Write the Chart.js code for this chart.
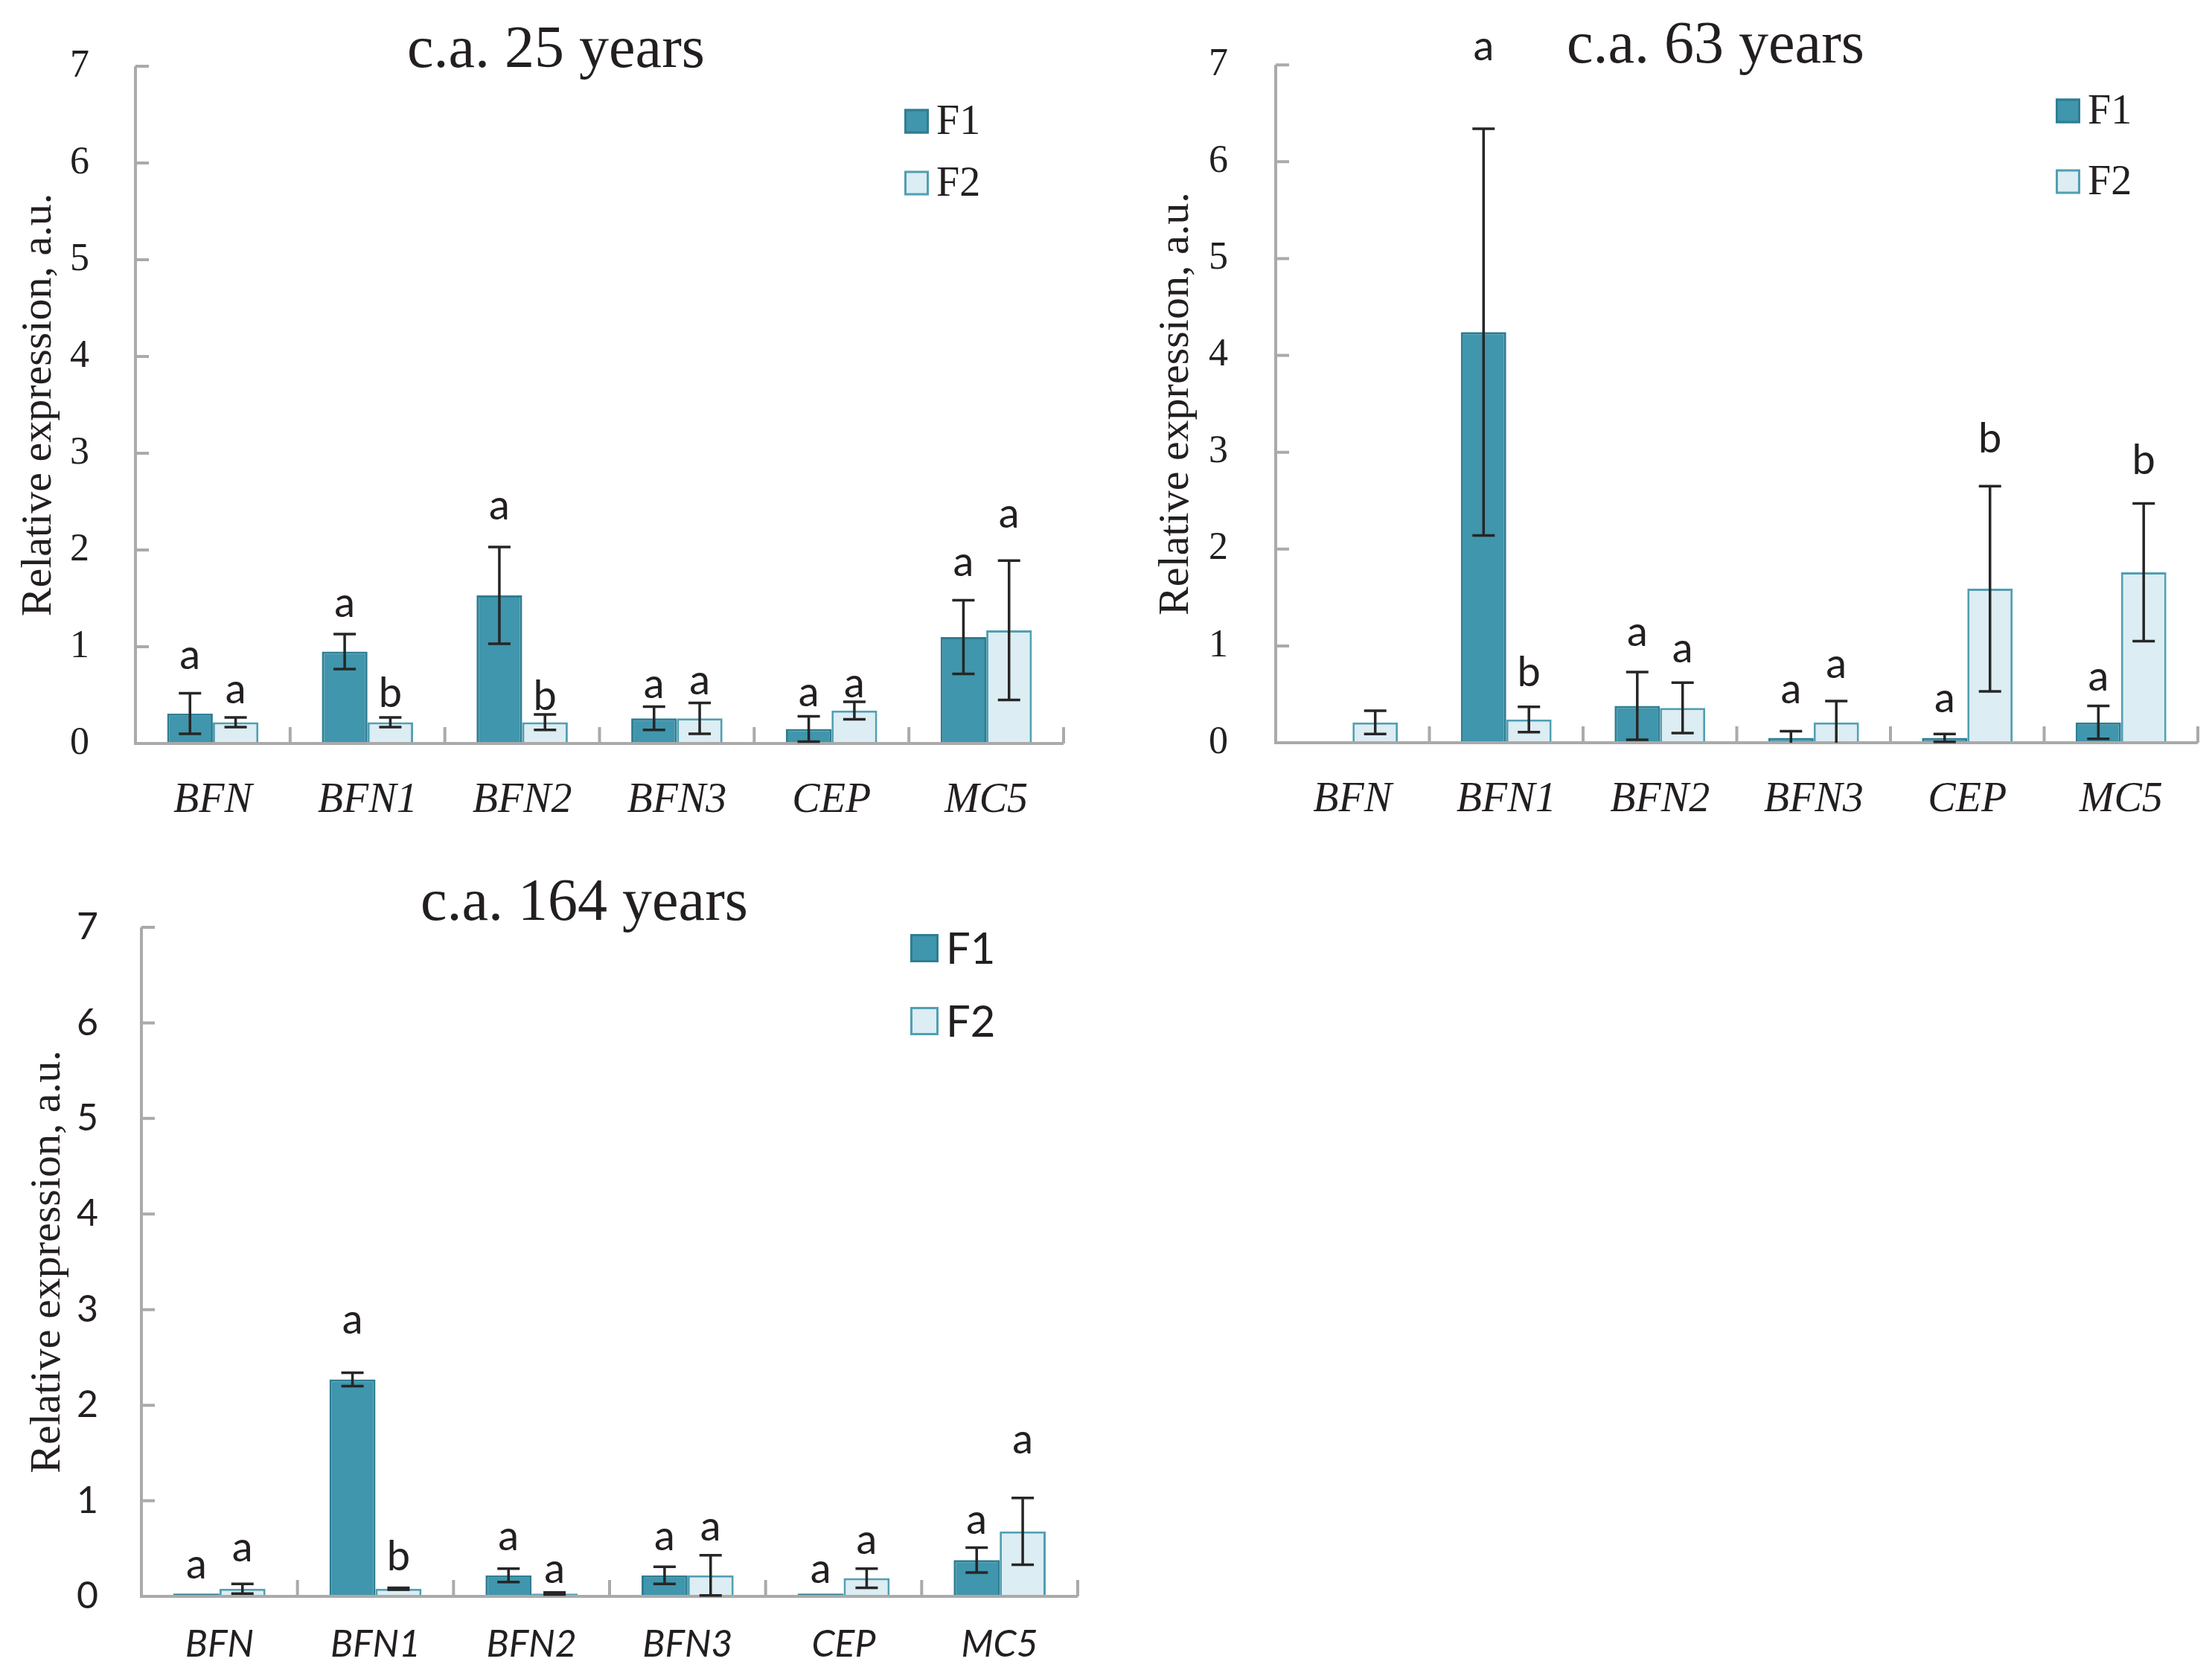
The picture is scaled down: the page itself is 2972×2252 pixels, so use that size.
<!DOCTYPE html>
<html><head><meta charset="utf-8">
<script src="https://cdn.jsdelivr.net/npm/chart.js@4.4.1/dist/chart.umd.min.js"></script>
<style>
html,body{margin:0;padding:0;background:#fff;width:2972px;height:2252px;overflow:hidden;}
canvas{position:absolute;}
</style></head><body>
<canvas id="c1" width="1480" height="1130" style="left:0px;top:0px;width:1480px;height:1130px"></canvas>
<canvas id="c2" width="1440" height="1130" style="left:1532px;top:0px;width:1440px;height:1130px"></canvas>
<canvas id="c3" width="1480" height="1102" style="left:0px;top:1150px;width:1480px;height:1102px"></canvas>
<script>
// ---- data ----
const categories = ['BFN', 'BFN1', 'BFN2', 'BFN3', 'CEP', 'MC5'];
const seriesNames = ['F1', 'F2'];
const yAxisTitle = 'Relative expression, a.u.';

// c.a. 25 years
const y25F1 = [0.31, 0.95, 1.53, 0.26, 0.15, 1.10];
const y25F1Err = [0.21, 0.18, 0.50, 0.12, 0.13, 0.38];
const y25F2 = [0.22, 0.22, 0.22, 0.26, 0.34, 1.17];
const y25F2Err = [0.05, 0.05, 0.08, 0.16, 0.09, 0.72];
const y25F1Letters = ['a', 'a', 'a', 'a', 'a', 'a'];
const y25F1LetterAt = [0.88, 1.42, 2.43, 0.58, 0.50, 1.84];
const y25F2Letters = ['a', 'b', 'b', 'a', 'a', 'a'];
const y25F2LetterAt = [0.53, 0.53, 0.50, 0.62, 0.59, 2.34];

// c.a. 63 years
const y63F1 = [0, 4.24, 0.38, 0.05, 0.05, 0.21];
const y63F1Err = [0, 2.10, 0.35, 0.07, 0.04, 0.17];
const y63F2 = [0.21, 0.24, 0.36, 0.21, 1.59, 1.76];
const y63F2Err = [0.12, 0.13, 0.26, 0.22, 1.06, 0.71];
const y63F1Letters = [null, 'a', 'a', 'a', 'a', 'a'];
const y63F1LetterAt = [null, 7.16, 1.11, 0.52, 0.43, 0.65];
const y63F2Letters = [null, 'b', 'a', 'a', 'b', 'b'];
const y63F2LetterAt = [null, 0.74, 0.94, 0.78, 3.15, 2.93];

// c.a. 164 years
const y164F1 = [0.03, 2.27, 0.22, 0.22, 0.03, 0.38];
const y164F1Err = [0, 0.07, 0.07, 0.09, 0, 0.13];
const y164F2 = [0.08, 0.08, 0.03, 0.22, 0.19, 0.68];
const y164F2Err = [0.05, 0.01, 0.01, 0.21, 0.10, 0.35];
const y164F1Letters = ['a', 'a', 'a', 'a', 'a', 'a'];
const y164F1LetterAt = [0.30, 2.86, 0.60, 0.60, 0.25, 0.77];
const y164F2Letters = ['a', 'b', 'a', 'a', 'a', 'a'];
const y164F2LetterAt = [0.48, 0.43, 0.25, 0.70, 0.56, 1.61];

// ---- styles ----
const F1_FILL = '#4096ac', F1_LINE = '#2f7d92';
const F2_FILL = '#dcedf3', F2_LINE = '#519fb3';
const TXT = '#231f20', AXIS = '#aaaaaa', ERR = '#262626';
const SERIF = "'Liberation Serif', 'DejaVu Serif', serif";
const SANS = "Lato, 'Open Sans', sans-serif";
Chart.defaults.font.family = SERIF;
Chart.defaults.color = TXT;

const deco = {
  id: 'deco',
  afterDatasetsDraw(chart, args, o) {
    const ctx = chart.ctx, xs = chart.scales.x, ys = chart.scales.y, ca = chart.chartArea;
    const y0 = ys.getPixelForValue(0), yTop = ys.getPixelForValue(ys.max);
    ctx.save();
    ctx.strokeStyle = AXIS; ctx.lineWidth = 4; ctx.lineCap = 'butt';
    ctx.beginPath();
    ctx.moveTo(ca.left, yTop); ctx.lineTo(ca.left, y0 + 2);
    ctx.moveTo(ca.left - 2, y0); ctx.lineTo(ca.right, y0);
    ys.ticks.forEach(t => { const p = ys.getPixelForValue(t.value); ctx.moveTo(ca.left, p); ctx.lineTo(ca.left + 18, p); });
    for (let i = 1; i <= categories.length; i++) {
      const p = xs.getPixelForValue(i - 0.5);
      ctx.moveTo(p, y0); ctx.lineTo(p, y0 - 22);
    }
    ctx.stroke();
    chart.data.datasets.forEach((ds, d) => {
      const meta = chart.getDatasetMeta(d);
      meta.data.forEach((el, i) => {
        const v = ds.data[i], e = ds.err[i];
        if (e > 0) {
          const pt = ys.getPixelForValue(v + e), pb = ys.getPixelForValue(Math.max(0, v - e));
          ctx.strokeStyle = ERR; ctx.lineWidth = 3.5;
          ctx.beginPath();
          ctx.moveTo(el.x, pt); ctx.lineTo(el.x, pb);
          ctx.moveTo(el.x - 15, pt); ctx.lineTo(el.x + 15, pt);
          if (v - e > 0) { ctx.moveTo(el.x - 15, pb); ctx.lineTo(el.x + 15, pb); }
          ctx.stroke();
        }
        const L = ds.letters[i];
        if (L) {
          const py = ys.getPixelForValue(ds.letterAt[i]);
          ctx.fillStyle = TXT; ctx.font = o.letterSize + 'px ' + SANS;
          ctx.textAlign = 'center'; ctx.textBaseline = 'alphabetic';
          ctx.fillText(L, el.x, py + (L === 'b' ? 0.36 : 0.26) * o.letterSize);
        }
      });
    });
    ctx.restore();
  },
  afterDraw(chart, args, o) {
    const ctx = chart.ctx;
    ctx.save();
    ctx.fillStyle = TXT;
    ctx.font = o.titleSize + 'px ' + SERIF;
    ctx.textAlign = 'center'; ctx.textBaseline = 'alphabetic';
    ctx.fillText(o.title, o.titleX, o.titleY);
    chart.data.datasets.forEach((ds, d) => {
      const cy = o.legendY[d], s = o.legendBox, lx = o.legendX;
      ctx.fillStyle = ds.backgroundColor; ctx.strokeStyle = ds.borderColor; ctx.lineWidth = 3;
      ctx.fillRect(lx, cy - s / 2, s, s);
      ctx.strokeRect(lx + 1.5, cy - s / 2 + 1.5, s - 3, s - 3);
      ctx.fillStyle = TXT; ctx.font = o.legendFont;
      ctx.textAlign = 'left'; ctx.textBaseline = 'middle';
      ctx.fillText(ds.label, lx + s + 10, cy + 2);
    });
    ctx.restore();
  }
};

function makePanel(id, f1, f1e, f1l, f1p, f2, f2e, f2l, f2p, L) {
  return new Chart(document.getElementById(id), {
    type: 'bar',
    data: {
      labels: categories,
      datasets: [
        { label: seriesNames[0], data: f1, err: f1e, letters: f1l, letterAt: f1p,
          backgroundColor: F1_FILL, borderColor: F1_LINE, borderWidth: 3,
          categoryPercentage: 0.59, barPercentage: 1 },
        { label: seriesNames[1], data: f2, err: f2e, letters: f2l, letterAt: f2p,
          backgroundColor: F2_FILL, borderColor: F2_LINE, borderWidth: 3,
          categoryPercentage: 0.59, barPercentage: 1 }
      ]
    },
    options: {
      responsive: false, animation: false, devicePixelRatio: 1,
      layout: { autoPadding: false, padding: { left: 0, top: L.top, right: L.right, bottom: 0 } },
      plugins: {
        legend: { display: false }, tooltip: { enabled: false }, title: { display: false },
        deco: L.deco
      },
      scales: {
        x: {
          grid: { display: false }, border: { display: false },
          ticks: { font: L.xFont, color: TXT, padding: L.xPad, maxRotation: 0 },
          afterFit(s) { s.height = L.xH; }
        },
        y: {
          min: 0, max: 7,
          grid: { display: false }, border: { display: false },
          ticks: { stepSize: 1, font: L.yFont, color: TXT, padding: L.yPad },
          title: { display: true, text: yAxisTitle, font: { family: SERIF, size: 58, style: 'normal' }, color: TXT,
                   padding: { top: L.yTitlePad, bottom: 0 } },
          afterFit(s) { s.width = L.yW; }
        }
      }
    },
    plugins: [deco]
  });
}

makePanel('c1', y25F1, y25F1Err, y25F1Letters, y25F1LetterAt, y25F2, y25F2Err, y25F2Letters, y25F2LetterAt, {
  top: 89, right: 51, xH: 131, yW: 182, xPad: 36, yPad: 54, yTitlePad: 18,
  xFont: { family: SERIF, size: 56, style: 'italic' }, yFont: { family: SERIF, size: 52, style: 'normal' },
  deco: { title: 'c.a. 25 years', titleX: 747, titleY: 90, titleSize: 80, letterSize: 56,
          legendX: 1215, legendY: [163, 246], legendBox: 33, legendFont: '56px ' + SERIF }
});
makePanel('c2', y63F1, y63F1Err, y63F1Letters, y63F1LetterAt, y63F2, y63F2Err, y63F2Letters, y63F2LetterAt, {
  top: 84, right: 19, xH: 132, yW: 182, xPad: 36, yPad: 56, yTitlePad: 14,
  xFont: { family: SERIF, size: 56, style: 'italic' }, yFont: { family: SERIF, size: 52, style: 'normal' },
  deco: { title: 'c.a. 63 years', titleX: 773, titleY: 84, titleSize: 80, letterSize: 56,
          legendX: 1230, legendY: [149, 244], legendBox: 33, legendFont: '56px ' + SERIF }
});
makePanel('c3', y164F1, y164F1Err, y164F1Letters, y164F1LetterAt, y164F2, y164F2Err, y164F2Letters, y164F2LetterAt, {
  top: 96, right: 32, xH: 107, yW: 190, xPad: 27, yPad: 50, yTitlePad: 30,
  xFont: { family: SANS, size: 50, style: 'italic' }, yFont: { family: SANS, size: 50, style: 'normal' },
  deco: { title: 'c.a. 164 years', titleX: 785, titleY: 86, titleSize: 80, letterSize: 56,
          legendX: 1223, legendY: [124, 222], legendBox: 38, legendFont: '58px ' + SANS }
});
</script>
</body></html>
